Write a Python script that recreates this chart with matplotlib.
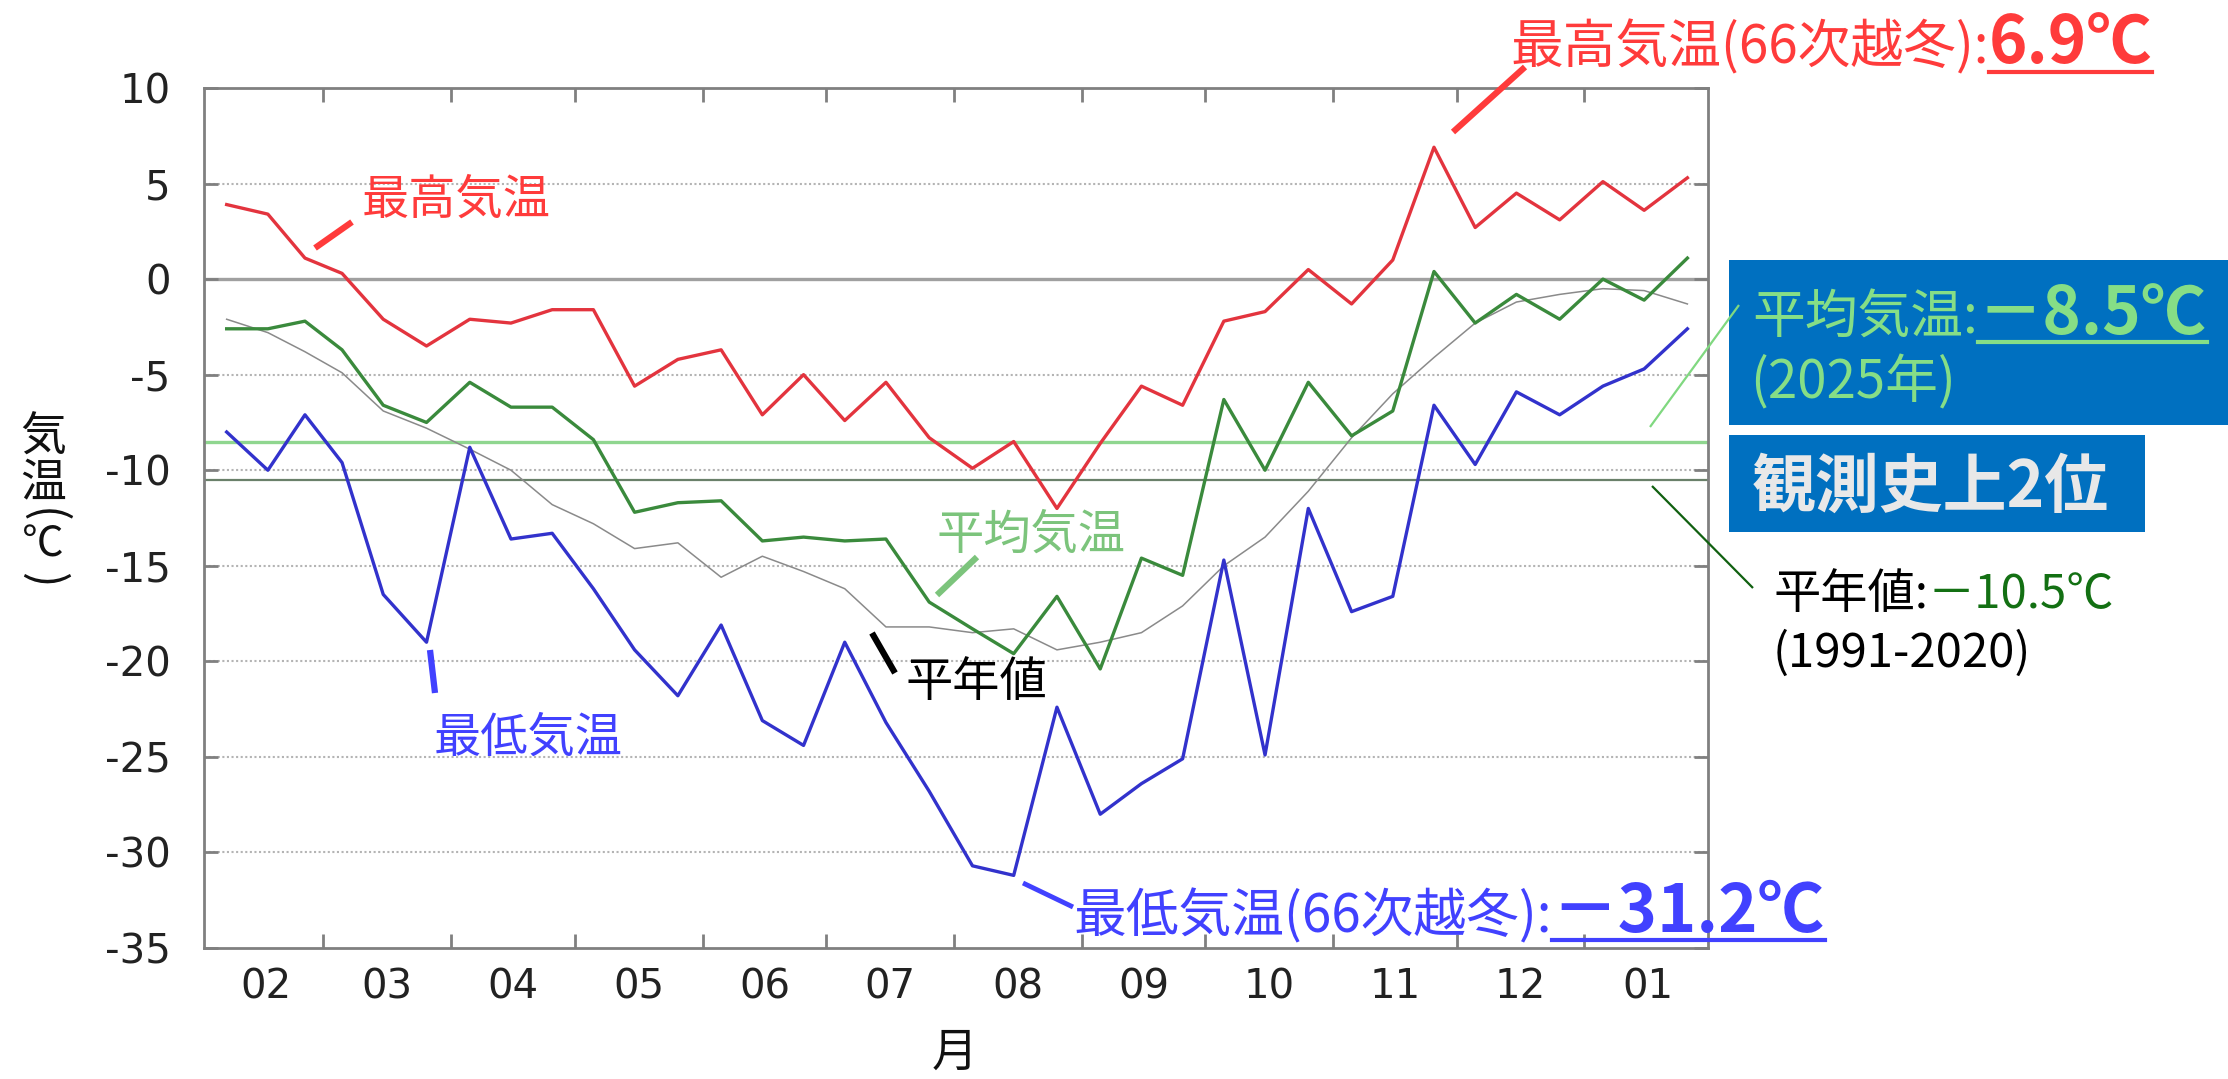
import numpy as np
import matplotlib
matplotlib.use('Agg')
import matplotlib.pyplot as plt
from matplotlib.lines import Line2D
from matplotlib.patches import Rectangle
from matplotlib.transforms import IdentityTransform

plt.rcParams['axes.unicode_minus'] = False
CJK = ['Noto Sans CJK JP', 'DejaVu Sans']

W, H = 2228, 1079

# data (decade values, Feb 2025 - Jan 2026)
months = ['02', '03', '04', '05', '06', '07', '08', '09', '10', '11', '12', '01']
month_days = [28, 31, 30, 31, 30, 31, 31, 30, 31, 30, 31, 31]

t_max = [3.9, 3.4, 1.1, 0.3, -2.1, -3.5, -2.1, -2.3, -1.6, -1.6, -5.6, -4.2,
         -3.7, -7.1, -5.0, -7.4, -5.4, -8.3, -9.9, -8.5, -12.0, -8.6, -5.6, -6.6,
         -2.2, -1.7, 0.5, -1.3, 1.0, 6.9, 2.7, 4.5, 3.1, 5.1, 3.6, 5.3]
t_mean = [-2.6, -2.6, -2.2, -3.7, -6.6, -7.5, -5.4, -6.7, -6.7, -8.4, -12.2, -11.7,
          -11.6, -13.7, -13.5, -13.7, -13.6, -16.9, -18.3, -19.6, -16.6, -20.4, -14.6, -15.5,
          -6.3, -10.0, -5.4, -8.2, -6.9, 0.4, -2.3, -0.8, -2.1, 0.0, -1.1, 1.1]
t_min = [-8.0, -10.0, -7.1, -9.6, -16.5, -19.0, -8.8, -13.6, -13.3, -16.2, -19.4, -21.8,
         -18.1, -23.1, -24.4, -19.0, -23.2, -26.8, -30.7, -31.2, -22.4, -28.0, -26.4, -25.1,
         -14.7, -24.9, -12.0, -17.4, -16.6, -6.6, -9.7, -5.9, -7.1, -5.6, -4.7, -2.6]
t_normal = [-2.1, -2.8, -3.8, -4.9, -6.9, -7.8, -8.9, -10.0, -11.8, -12.8, -14.1, -13.8,
            -15.6, -14.5, -15.3, -16.2, -18.2, -18.2, -18.5, -18.3, -19.4, -19.0, -18.5, -17.1,
            -15.0, -13.5, -11.1, -8.3, -6.0, -4.1, -2.3, -1.2, -0.8, -0.5, -0.6, -1.3]
mean_2025 = -8.5
mean_normal = -10.5

# decade centres in days from Feb 1
starts = np.concatenate([[0], np.cumsum(month_days)[:-1]])
x = []
for s, n in zip(starts, month_days):
    x += [s + 4.5, s + 14.5, s + 20 + (n - 21) / 2]
x = np.array(x)
mid = starts + np.array(month_days) / 2

fig = plt.figure(figsize=(W / 100, H / 100), dpi=100)
ax = fig.add_axes([204 / W, 1 - 948 / H, (1708 - 204) / W, (948 - 88) / H])
ax.set_xlim(-1, 364)
ax.set_ylim(-35, 10)

# grid and reference lines
for v in range(-30, 10, 5):
    if v != 0:
        ax.axhline(v, color='#b4b4b4', lw=1.5, ls=(0, (1, 1.2)), zorder=1)
ax.axhline(0, color='#a0a0a0', lw=2.4, zorder=1)
ax.axhline(mean_2025, color='#8fd68f', lw=2.4, zorder=1)
ax.axhline(mean_normal, color='#6a806a', lw=1.6, zorder=1)

# series
ax.plot(x, t_normal, color='#8a8a8a', lw=1.1, zorder=2)
ax.plot(x, t_max, color='#e3343e', lw=2.4, zorder=3)
ax.plot(x, t_mean, color='#3a8a3c', lw=2.4, zorder=3)
ax.plot(x, t_min, color='#3232cc', lw=2.4, zorder=3)

# axes styling
yt = list(range(-35, 11, 5))
ax.set_yticks(yt)
ax.set_yticklabels([str(v) for v in yt], family='DejaVu Sans', fontsize=29, color='#222222')
ax.tick_params(axis='y', direction='in', length=10, width=2, color='#808080',
               left=True, right=True, pad=24)
ax.set_xticks(mid)
ax.set_xticklabels(months, family='DejaVu Sans', fontsize=29, color='#222222')
ax.tick_params(axis='x', which='major', length=0, pad=14)
ax.set_xticks(starts[1:], minor=True)
ax.tick_params(axis='x', which='minor', direction='in', length=10, width=2,
               color='#808080', top=True, bottom=True)
for sp in ax.spines.values():
    sp.set_color('#808080')
    sp.set_linewidth(2)

renderer = fig.canvas.get_renderer()


def txt(px, py, s, **kw):
    kw.setdefault('family', CJK)
    return fig.text(px, H - py, s, transform=IdentityTransform(), **kw)


def chain(px, py, parts):
    out = []
    for s, kw in parts:
        t = txt(px, py, s, ha='left', va='baseline', **kw)
        px = t.get_window_extent(renderer).x1
        out.append(t)
    return out


def underline(t, py, color, lw):
    bb = t.get_window_extent(renderer)
    fig.add_artist(Line2D([bb.x0, bb.x1], [H - py, H - py], transform=IdentityTransform(),
                          color=color, lw=lw))


def seg(x0, y0, x1, y1, color, lw):
    fig.add_artist(Line2D([x0, x1], [H - y0, H - y1], transform=IdentityTransform(),
                          color=color, lw=lw, solid_capstyle='butt'))


red = '#ff3b3b'
blue = '#4141ff'
lgreen = '#86de86'

# axis labels
txt(955, 1053, '月', fontsize=33, ha='center', va='center', color='#111111')
txt(43, 437, '気', fontsize=33, ha='center', va='center', color='#111111')
txt(43, 484, '温', fontsize=33, ha='center', va='center', color='#111111')
txt(43, 516, '(', fontsize=33, ha='center', va='center', rotation=-90, color='#111111')
txt(43, 545, '℃', fontsize=30, ha='center', va='center', color='#111111')
txt(43, 580, ')', fontsize=33, ha='center', va='center', rotation=-90, color='#111111')

# labels inside chart
txt(456, 200, '最高気温', fontsize=34, ha='center', va='center', color=red)
seg(315, 248, 352, 222, red, 4.5)
txt(1031, 535, '平均気温', fontsize=34, ha='center', va='center', color='#7cc47c')
seg(937, 595, 977, 557, '#7cc47c', 4.5)
txt(976, 683, '平年値', fontsize=34, ha='center', va='center', color='black')
seg(872, 633, 895, 673, 'black', 4.5)
txt(528, 738, '最低気温', fontsize=34, ha='center', va='center', color=blue)
seg(430, 650, 435, 693, blue, 4.5)

# record annotations
t = chain(1510, 63, [('最高気温(66次越冬):', dict(fontsize=38, color=red)),
                     ('6.9℃', dict(fontsize=47, color=red, weight='bold'))])
underline(t[1], 72, red, 3)
seg(1453, 132, 1525, 67, red, 4.5)

t = chain(1073, 932, [('最低気温(66次越冬):', dict(fontsize=38, color=blue)),
                      ('－31.2℃', dict(fontsize=48, color=blue, weight='bold'))])
underline(t[1], 940, blue, 3)
seg(1023, 883, 1073, 907, blue, 3.5)

# blue boxes on the right
fig.add_artist(Rectangle((1729, H - 425), W - 1729, 165, transform=IdentityTransform(),
                         facecolor='#0070c0', edgecolor='none'))
fig.add_artist(Rectangle((1729, H - 532), 2145 - 1729, 97, transform=IdentityTransform(),
                         facecolor='#0070c0', edgecolor='none'))
t = chain(1752, 334, [('平均気温:', dict(fontsize=38, color=lgreen)),
                      ('－8.5℃', dict(fontsize=47, color=lgreen, weight='bold'))])
underline(t[1], 342, lgreen, 3)
chain(1750, 398, [('(2025年)', dict(fontsize=38, color=lgreen))])
chain(1752, 507, [('観測史上2位', dict(fontsize=46, color='#e8e8e8', weight='bold'))])
seg(1650, 427, 1739, 305, '#80d880', 1.6)

chain(1773, 608, [('平年値:', dict(fontsize=34, color='black')),
                  ('－10.5℃', dict(fontsize=34, color='#137013'))])
chain(1773, 667, [('(1991-2020)', dict(fontsize=34, color='black'))])
seg(1652, 486, 1753, 588, '#106010', 1.6)

fig.savefig('out.png', dpi=100, facecolor='white')
